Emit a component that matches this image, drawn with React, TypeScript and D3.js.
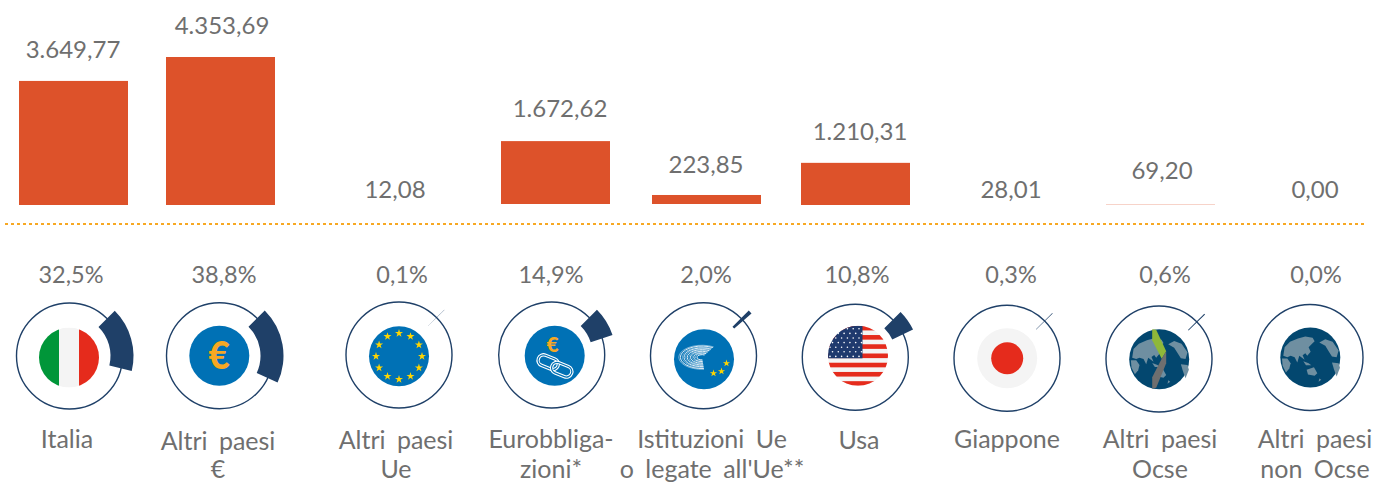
import React from "react";
import * as d3 from "d3";

const categories = ["Italia", "Altri paesi €", "Altri paesi Ue", "Eurobbligazioni", "Istituzioni Ue", "Usa", "Giappone", "Altri paesi Ocse", "Altri paesi non Ocse"];
const valueLabels = ["3.649,77", "4.353,69", "12,08", "1.672,62", "223,85", "1.210,31", "28,01", "69,20", "0,00"];
const barValues = [3649.77, 4353.69, 0, 1850, 265, 1240, 0, 25, 0];
const shares = [32.5, 38.8, 0.1, 14.9, 2.0, 10.8, 0.3, 0.6, 0.0];
const shareLabels = ["32,5%", "38,8%", "0,1%", "14,9%", "2,0%", "10,8%", "0,3%", "0,6%", "0,0%"];
const nameLines = [["Italia"], ["Altri paesi", "€"], ["Altri paesi", "Ue"], ["Eurobbliga-", "zioni*"], ["Istituzioni Ue", "o legate all'Ue**"], ["Usa"], ["Giappone"], ["Altri paesi", "Ocse"], ["Altri paesi", "non Ocse"]];

// layout (hand-placed infographic)
const barCenters = [73.5, 220.5, 395, 555.5, 706.5, 855.5, 1011, 1160.5, 1315];
const barBase = [205, 205, 205, 204, 204, 205, 205, 205, 205];
const valueX = [73, 222, 395, 560, 706, 860, 1011, 1162, 1315];
const valueY = [58, 34, 198, 117, 173, 140, 198, 179, 198];
const shareX = [71, 224, 402, 551, 706, 857, 1011, 1165, 1316];
const ringX = [69.5, 219.5, 399, 551.7, 703.5, 855.3, 1007, 1159, 1310];
const ringY = [356, 355.7, 355, 355, 355.7, 357.2, 358.3, 359, 357.5];
const discX = [69, 219.3, 399, 554.7, 704, 858, 1007.2, 1159.2, 1310.3];
const discY = [357.6, 355.8, 356.3, 355.7, 359.3, 355.8, 358.3, 359.3, 357.5];
const nameX = [67, 218, 396, 551, 712, 859, 1007, 1160, 1315];
const nameY = [448, 450, 449, 448, 448, 449, 448, 448, 448];
const secondLineY = 478;

const NAVY = "#1f4068", BLUE = "#0071b5", ORANGE = "#f7a823", GREY = "#6f6f6f", BAR = "#dd522a";
const FONT = "Lato, 'Open Sans', sans-serif";

const y = d3.scaleLinear().domain([0, 4353.69]).range([0, 148]);
const angle = d3.scaleLinear().domain([0, 100]).range([Math.PI / 4, (5 * Math.PI) / 4]);
const gauge = d3.arc<number>().innerRadius(41).outerRadius(64).startAngle(angle(0)).endAngle((d) => angle(d));
const starPath = (s: number) => d3.symbol().type(d3.symbolStar).size(s)() as string;

const Euro = ({ size, dx = 0, dy = 0 }: { size: number; dx?: number; dy?: number }) => (
  <text x={dx} y={dy} textAnchor="middle" dominantBaseline="central" fontFamily={FONT} fontWeight={900} fontSize={size} fill={ORANGE}>€</text>
);

// icon artwork, drawn on a 210-wide grid centred at 105,105
const land = [
  [[24, 100], [28, 74], [44, 58], [68, 48], [90, 42], [112, 46], [118, 56], [108, 66], [100, 74], [106, 88], [96, 100], [90, 92], [82, 98], [88, 112], [80, 106], [72, 100], [66, 120], [58, 104], [46, 100], [36, 104]],
  [[20, 108], [36, 108], [46, 122], [42, 138], [32, 150], [22, 130]],
  [[84, 116], [100, 122], [108, 128], [92, 128]],
  [[94, 142], [116, 134], [126, 152], [118, 160], [98, 156]],
  [[132, 60], [150, 50], [172, 58], [190, 84], [184, 104], [170, 102], [160, 86], [150, 70]],
  [[170, 120], [190, 122], [194, 136], [184, 162], [176, 140]],
  [[132, 168], [138, 172], [130, 178]],
];
const Land = () => (
  <g fill="#6f8fa1" transform="translate(-35,-35) scale(0.3333)">
    {land.map((p, i) => <polygon key={i} points={p.map((q) => q.join(",")).join(" ")} />)}
  </g>
);

const hemi = [14, 23, 32, 41, 50, 60];
const hemiPath = (r: number) => {
  const a0 = ((r > 50 ? -18 : r > 40 ? -35 : -60) * Math.PI) / 180;
  const a1 = (85 * Math.PI) / 180;
  const ry = r * 0.52;
  return `M${r * Math.cos(a0)},${ry * Math.sin(a0)} A${r},${ry} 0 1 0 ${r * Math.cos(a1)},${ry * Math.sin(a1)}`;
};
const parliamentStars = [[22.5, 4], [17.5, 12], [9.5, 14]];

const Link = ({ cx, cy }: { cx: number; cy: number }) => (
  <g transform={`translate(${cx},${cy}) rotate(22)`} fill="none">
    <rect x={-10.5} y={-5.5} width={21} height={11} rx={5.5} stroke="#fff" strokeWidth={3.4} />
    <rect x={-10.5} y={-5.5} width={21} height={11} rx={5.5} stroke={BLUE} strokeWidth={1.2} />
  </g>
);

function Icon({ i }: { i: number }) {
  const id = `clip${i}`;
  const clip = <clipPath id={id}><circle r={30} /></clipPath>;
  switch (i) {
    case 0:
      return (
        <g>{clip}<g clipPath={`url(#${id})`}>
          <rect x={-30} y={-30} width={20} height={60} fill="#009639" />
          <rect x={-10} y={-30} width={20} height={60} fill="#f4f4f4" />
          <rect x={10} y={-30} width={20} height={60} fill="#e52b1c" />
        </g></g>
      );
    case 1:
      return <g><circle r={30} fill={BLUE} /><Euro size={37} dy={-1} /></g>;
    case 2:
      return (
        <g>
          <circle r={30} fill={BLUE} />
          {d3.range(12).map((k) => (
            <path key={k} d={starPath(20)} fill="#ffd500" transform={`translate(${23 * Math.sin((k * Math.PI) / 6)},${-23 * Math.cos((k * Math.PI) / 6)})`} />
          ))}
        </g>
      );
    case 3:
      return (
        <g>
          <circle r={30} fill={BLUE} />
          <Euro size={21} dx={-2} dy={-12} />
          <Link cx={-6.5} cy={6.5} />
          <Link cx={7} cy={14} />
        </g>
      );
    case 4:
      return (
        <g>
          <circle r={30} fill={BLUE} />
          <g transform="translate(-2,-2)" fill="none" stroke="#e3eef6" strokeWidth={1}>
            {hemi.map((r) => <path key={r} d={hemiPath(r * 0.36)} />)}
            {hemi.map((r) => <path key={r} d={hemiPath(r * 0.36 + 1.6)} strokeWidth={0.5} />)}
          </g>
          {parliamentStars.map(([a, b], k) => (
            <path key={k} d={starPath(16)} fill="#ffd500" transform={`translate(${a},${b})`} />
          ))}
        </g>
      );
    case 5: {
      const stripes = d3.range(13);
      const sh = 60 / 13;
      return (
        <g>{clip}<g clipPath={`url(#${id})`}>
          <rect x={-30} y={-30} width={60} height={60} fill="#f4f4f4" />
          {stripes.filter((k) => k % 2 === 0).map((k) => (
            <rect key={k} x={-30} y={-30 + k * sh} width={60} height={sh} fill="#e52b1c" />
          ))}
          <rect x={-30} y={-30} width={34.5} height={32.5} fill="#1f3a6e" />
          {d3.range(7).map((r) => d3.range(6).map((c) => (
            <circle key={`${r}-${c}`} cx={-28 + c * 5.8 + (r % 2 ? 2.5 : 0)} cy={-27 + r * 4.6} r={0.8} fill="#fff" />
          )))}
        </g></g>
      );
    }
    case 6:
      return <g><circle r={30} fill="#f4f4f4" /><circle r={16} fill="#e52b1c" /></g>;
    case 7:
      return (
        <g>
          <circle r={30} fill="#03476f" />
          <Land />
          <polygon points="-7,-30 -3,-29.5 7,-8 2.5,-0.5 -7,-19" fill="#8fb83a" />
          <polygon points="7,-8 7,4 -3,28.5 -7,29.5 -7,18 2.5,-0.5" fill="#6f6f6f" />
        </g>
      );
    default:
      return <g><circle r={30} fill="#03476f" /><Land /></g>;
  }
}

export default function App() {
  return (
    <svg width={1375} height={482} style={{ position: "absolute", left: 0, top: 0, display: "block" }}>
      <rect width={1375} height={482} fill="#fff" />
      {categories.map((c, i) => {
        const h = y(barValues[i]);
        return h > 0 ? (
          <rect key={c} x={barCenters[i] - 54.5} y={barBase[i] - h} width={109} height={h} fill={BAR} opacity={h < 2 ? 0.3 : 1} />
        ) : null;
      })}
      <line x1={5} x2={1367} y1={224} y2={224} stroke={ORANGE} strokeWidth={2} strokeDasharray="3 3" />
      <g fontFamily={FONT} fill={GREY} textAnchor="middle">
        {valueLabels.map((t, i) => <text key={i} x={valueX[i]} y={valueY[i]} fontSize={24}>{t}</text>)}
        {shareLabels.map((t, i) => <text key={i} x={shareX[i]} y={283} fontSize={23.5}>{t}</text>)}
        {nameLines.map((lines, i) => lines.map((l, k) => (
          <text key={l} x={nameX[i]} y={k === 0 ? nameY[i] : secondLineY} fontSize={25} wordSpacing={5}>{l}</text>
        )))}
      </g>
      {categories.map((c, i) => (
        <g key={c}>
          <g transform={`translate(${discX[i]},${discY[i]})`}><Icon i={i} /></g>
          <circle cx={ringX[i]} cy={ringY[i]} r={53} fill="none" stroke={NAVY} strokeWidth={1.4} />
          {shares[i] > 0 && (
            <path d={gauge(shares[i]) as string} transform={`translate(${ringX[i]},${ringY[i]})`} fill={NAVY} />
          )}
        </g>
      ))}
    </svg>
  );
}
